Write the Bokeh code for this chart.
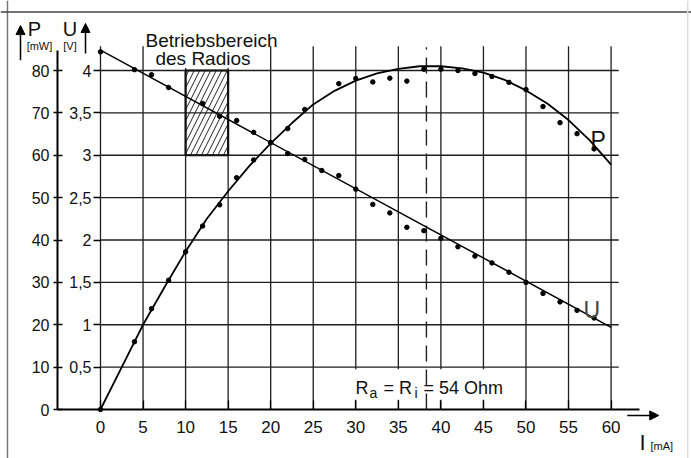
from bokeh.plotting import figure
from bokeh.models import Range1d, LinearAxis, FixedTicker, Span, Label, Arrow, NormalHead
from bokeh.embed import file_html
from bokeh.resources import INLINE

# ---------------- data ----------------
x_ticks = [0, 5, 10, 15, 20, 25, 30, 35, 40, 45, 50, 55, 60]
p_ticks = [0, 10, 20, 30, 40, 50, 60, 70, 80]
u_ticks = [0.5, 1, 1.5, 2, 2.5, 3, 3.5, 4]
u_tick_labels = ["0,5", "1", "1,5", "2", "2,5", "3", "3,5", "4"]

# fitted power curve P (mW) over current I (mA)
curve_i = [0, 2.5, 5, 7.5, 10, 12.5, 15, 17.5, 20, 22.5, 25, 27.5, 30, 32.5,
           35, 37.5, 40, 42.5, 45, 47.5, 50, 52.5, 55, 57.5, 60]
curve_p = [0, 10, 20, 28.8, 37.3, 45, 51.5, 57.5, 62.8, 67.6, 72, 75.2, 77.6, 79.3,
           80.4, 81, 81, 80.5, 79.5, 77.8, 75.3, 72.2, 68.3, 63.5, 57.8]

# fitted voltage line U (V)
line_i = [0, 60]
line_u = [4.24, 0.97]

# measured points
dots_p_i = [0, 4, 6, 8, 10, 12, 14, 16, 18, 20, 22, 24, 28, 30, 32, 34, 36, 38,
            40, 42, 44, 46, 48, 50, 52, 54, 56, 58]
dots_p = [0, 16, 23.8, 30.5, 37.2, 43.3, 48.3, 54.7, 58.9, 63, 66.3, 70.8, 76.9, 78.1,
          77.3, 78.2, 77.5, 80.3, 80.3, 80, 79.3, 78.6, 77.2, 75.5, 71.5, 67.7, 65.1, 61.5]
dots_u_i = [0, 4, 6, 8, 12, 14, 16, 18, 20, 22, 24, 26, 28, 30, 32, 34, 36, 38,
            40, 42, 44, 46, 48, 50, 52, 54, 56, 58]
dots_u = [4.22, 4.01, 3.95, 3.8, 3.61, 3.46, 3.41, 3.27, 3.15, 3.02, 2.95, 2.82, 2.76, 2.6,
          2.42, 2.32, 2.15, 2.11, 2.02, 1.92, 1.81, 1.73, 1.62, 1.5, 1.37, 1.27, 1.17, 1.08]

# operating range of the radio (I in mA, U in V)
range_i = [10, 15]
range_u = [3, 4]

# matching point Ra = Ri
match_i = 38.3

FONT = "Liberation Sans"

# ---------------- figure ----------------
XL, XR = -11.75, 69.45
PB, PT = -11.56, 96.52
p = figure(width=691, height=458, x_range=Range1d(XL, XR), y_range=Range1d(PB, PT),
           output_backend="svg", toolbar_location=None,
           x_axis_type=None, y_axis_type=None,
           min_border=0, min_border_left=0, min_border_right=0,
           min_border_top=0, min_border_bottom=0)
p.extra_y_ranges = {"u": Range1d(PB / 20, PT / 20)}
p.outline_line_color = None
p.background_fill_color = "white"
p.border_fill_color = "white"

GRID = "#1e1e1e"

# grid lines
p.segment(x0=x_ticks, y0=0, x1=x_ticks, y1=85.7, line_color=GRID, line_width=1.3)
p.segment(x0=0, y0=p_ticks[1:], x1=60.9, y1=p_ticks[1:], line_color=GRID, line_width=1.4)

# white boxes behind texts
p.quad(left=29.2, right=46.8, bottom=2.3, top=9.5, fill_color="white", line_color=None)
p.quad(left=7, right=18, bottom=80.6, top=88.5, fill_color="white", line_color=None)

# hatched operating range
p.quad(left=range_i[0], right=range_i[1], bottom=range_u[0], top=range_u[1], y_range_name="u",
       fill_color=None, hatch_pattern="/", hatch_color="#222", hatch_scale=11, hatch_weight=1,
       line_color="#111", line_width=2.2)

# dashed matching line
p.line([match_i, match_i], [0, 85.5], line_color="#222", line_width=1.4, line_dash="16 8")

# curves
p.line(curve_i, curve_p, line_color="black", line_width=1.8)
p.line(line_i, line_u, y_range_name="u", line_color="black", line_width=1.5)

# measured points
p.scatter(dots_p_i, dots_p, size=4.5, color="black")
p.scatter(dots_u_i, dots_u, y_range_name="u", size=4.5, color="black")

# ---------------- axes ----------------
pax = LinearAxis(fixed_location=-5.05, ticker=FixedTicker(ticks=p_ticks), bounds=(0, 84.7),
                 major_tick_in=5, major_tick_out=4, minor_tick_line_color=None,
                 axis_line_width=2, major_tick_line_width=1.5, major_label_standoff=4,
                 major_label_text_font=FONT, major_label_text_font_size="16px",
                 major_label_text_color="#111")
p.add_layout(pax, "left")

overrides = {}
for t, l in zip(u_ticks, u_tick_labels):
    overrides[t] = l
    overrides[str(t)] = l
uax = LinearAxis(y_range_name="u", fixed_location=0, ticker=FixedTicker(ticks=u_ticks),
                 axis_line_color=None, major_tick_in=0, major_tick_out=7,
                 minor_tick_line_color=None, major_tick_line_width=1.5, major_label_standoff=2,
                 major_label_overrides=overrides,
                 major_label_text_font=FONT, major_label_text_font_size="16px",
                 major_label_text_color="#111")
p.add_layout(uax, "left")

xax = LinearAxis(fixed_location=0, ticker=FixedTicker(ticks=x_ticks), bounds=(-5.05, 63.3),
                 major_tick_in=9, major_tick_out=0, minor_tick_line_color=None,
                 axis_line_width=2, major_tick_line_width=1.3, major_label_standoff=11,
                 major_label_text_font=FONT, major_label_text_font_size="17px",
                 major_label_text_color="#111")
p.add_layout(xax, "below")

# axis arrows
head = dict(size=9, fill_color="black", line_color="black")
p.add_layout(Arrow(end=NormalHead(**head), x_start=-9.4, y_start=82.4, x_end=-9.4, y_end=90.6,
                   line_width=1.5))
p.add_layout(Arrow(end=NormalHead(**head), x_start=-1.76, y_start=84.0, x_end=-1.76, y_end=91.1,
                   line_width=1.5))
p.add_layout(Arrow(end=NormalHead(**head), x_start=61.9, y_start=-1.4, x_end=65.6, y_end=-1.4,
                   line_width=1.5))

# frame lines of the scan
p.add_layout(Span(location=-10.93, dimension="height", line_color="#777", line_width=1.5))
p.add_layout(Span(location=93.8, dimension="width", line_color="#444", line_width=1.5))
p.add_layout(Span(location=69.0, dimension="height", line_color="#ddd", line_width=1.5))


def lab(x, y, text, size, align="left", color="#111", y_range_name="default"):
    p.add_layout(Label(x=x, y=y, text=text, text_font=FONT, text_font_size=size,
                       text_align=align, text_baseline="alphabetic", text_color=color,
                       y_range_name=y_range_name))


lab(-7.76, 89.9, "P", "20px", "center")
lab(-7.17, 85.9, "[mW]", "11px", "center")
lab(-3.58, 89.9, "U", "20px", "center")
lab(-3.58, 85.9, "[V]", "11px", "center")

lab(5.29, 87.1, "Betriebsbereich", "19px")
lab(6.46, 82.8, "des Radios", "19px")

lab(29.96, 5.19, "R", "18px")
lab(31.6, 3.78, "a", "14px")
lab(33.25, 5.19, "= R", "18px")
lab(36.9, 3.78, "i", "14px")
lab(37.96, 5.19, "= 54 Ohm", "18px")

lab(57.58, 63.5, "P", "23px")
lab(56.76, 23.4, "U", "23px", color="#444")

lab(63.7, -7.79, "I", "22px", "center")
lab(64.63, -8.6, "[mA]", "11px")

open("out.html", "w").write(file_html(p, INLINE))
